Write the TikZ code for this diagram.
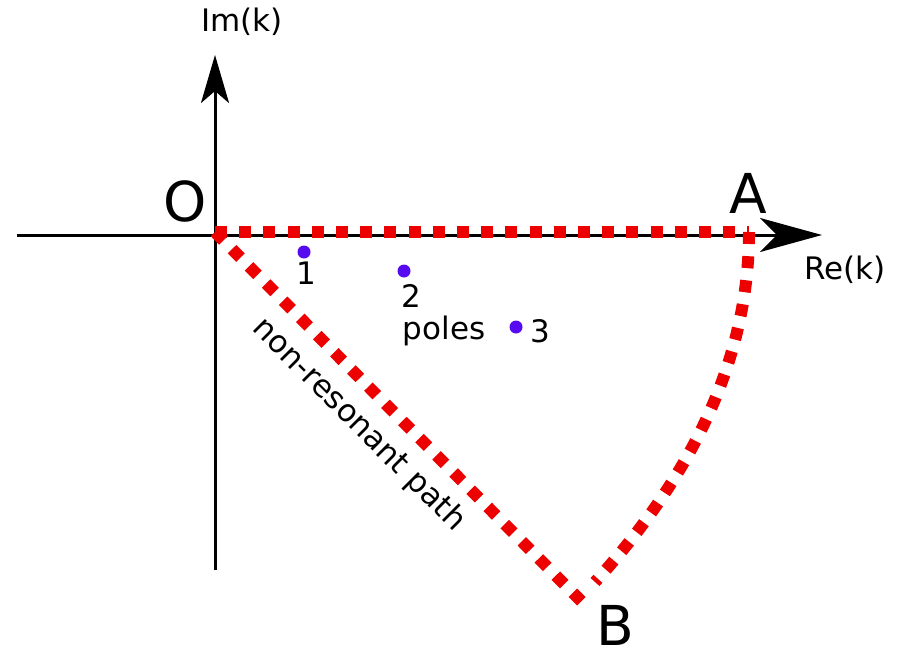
\documentclass[tikz,border=0pt]{standalone}
\usepackage{fontspec}
\setmainfont{DejaVu Sans}
\usetikzlibrary{arrows.meta}
\definecolor{pathred}{RGB}{236,0,0}
\definecolor{polecol}{RGB}{85,10,240}
\begin{document}
\begin{tikzpicture}[x=1pt,y=-1pt,
  axis/.style={line width=3pt},
  contour/.style={line width=12pt, pathred, dash pattern=on 12pt off 12.2pt},
  lbl/.style={font=\fontsize{31}{36}\selectfont, inner sep=0pt},
  big/.style={font=\fontsize{55}{60}\selectfont, inner sep=0pt},
  pole/.style={circle, fill=polecol, inner sep=0pt, minimum size=13pt}]
\useasboundingbox (0,0) rectangle (897,648);
% axes
\coordinate (xs) at (17,235);
\coordinate (xe) at (822,235);
\coordinate (ys) at (215,570);
\coordinate (ye) at (215,55);
\draw[axis,-{Stealth[length=62pt,width=34pt,inset=17pt]}] (xs) -- (xe);
\draw[axis,-{Stealth[length=48pt,width=28pt,inset=12pt]}] (ys) -- (ye);
% contour
\coordinate (O) at (215,232);
\coordinate (A) at (749,232);
\coordinate (Bl) at (583,603);
\coordinate (Br) at (595,582);
\draw[contour] (O) -- (A);
\draw[contour] (O) -- (Bl);
\draw[contour] (A) .. controls (749,352) and (698,469) .. (Br);
% poles
\node[pole] (p1) at (304,252) {};
\node[pole] (p2) at (404,271) {};
\node[pole] (p3) at (516,327) {};
\node[lbl] (n1) at (306,273) {1};
\node[lbl] (n2) at (411,296) {2};
\node[lbl] (n3) at (540,331) {3};
\node[lbl] (poles) at (444,331) {poles};
% labels
\node[lbl] (im) at (242,22) {Im(k)};
\node[lbl] (re) at (845,270) {Re(k)};
\node[big] (lO) at (185,201) {O};
\node[big] (lA) at (748,193) {A};
\node[big] (lB) at (615,625) {B};
\node[lbl, rotate=-45] (np) at (359,425) {non-resonant path};
\end{tikzpicture}
\end{document}
